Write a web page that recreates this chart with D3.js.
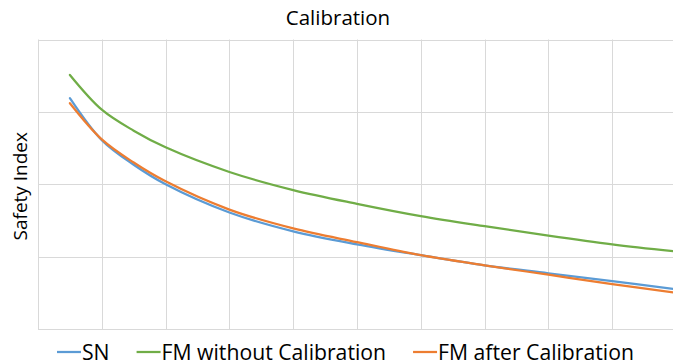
<!DOCTYPE html>
<html>
<head>
<meta charset="utf-8">
<script src="https://cdn.jsdelivr.net/npm/d3@7"></script>
<style>
  html, body { margin: 0; padding: 0; background: #fff; }
  svg { display: block; }
  text { font-family: "Open Sans", sans-serif; fill: #000; }
</style>
</head>
<body>
<div id="chart"></div>
<script>
// ---- data (x in category units, y in gridline units) ----
const xValues = [0.5, 1, 1.5, 2, 3, 4, 5, 6, 7, 8, 9, 10];
const snValues = [3.19, 2.61, 2.27, 2.00, 1.61, 1.35, 1.17, 1.02, 0.88, 0.77, 0.66, 0.55];
const fmWithoutValues = [3.51, 3.03, 2.74, 2.51, 2.17, 1.92, 1.73, 1.56, 1.42, 1.29, 1.17, 1.07];
const fmAfterValues = [3.12, 2.62, 2.30, 2.04, 1.65, 1.39, 1.20, 1.02, 0.88, 0.75, 0.62, 0.50];
const seriesNames = ["SN", "FM without Calibration", "FM after Calibration"];
const seriesColors = ["#5B9BD5", "#70AD47", "#ED7D31"];
const yTicks = [0, 1, 2, 3, 4];
const xTicks = [0, 1, 2, 3, 4, 5, 6, 7, 8, 9, 10];
const title = "Calibration";
const yLabel = "Safety Index";

const W = 673, H = 364;
const margin = { left: 38, top: 39.5, bottom: 35 };
const plotRight = 38 + 63.8 * 10;

const svg = d3.select("#chart").append("svg").attr("width", W).attr("height", H);

const x = d3.scaleLinear().domain([0, 10]).range([margin.left, plotRight]);
const y = d3.scaleLinear().domain([0, 4]).range([H - margin.bottom, margin.top]);

// gridlines
const grid = svg.append("g");
grid.selectAll("line.h").data(yTicks).enter().append("line")
  .attr("x1", margin.left).attr("x2", plotRight)
  .attr("y1", d => Math.round(y(d)) + 0.5).attr("y2", d => Math.round(y(d)) + 0.5)
  .attr("stroke", "#d9d9d9").attr("stroke-width", 1);
grid.selectAll("line.v").data(xTicks).enter().append("line")
  .attr("x1", d => Math.round(x(d)) + 0.5).attr("x2", d => Math.round(x(d)) + 0.5)
  .attr("y1", y(4)).attr("y2", y(0))
  .attr("stroke", "#d9d9d9").attr("stroke-width", 1);

// lines
const series = [snValues, fmWithoutValues, fmAfterValues];
const lineGen = d3.line()
  .x((d, i) => x(xValues[i]))
  .y(d => y(d))
  .curve(d3.curveCatmullRom.alpha(0.5));
// draw order: green, blue, orange (orange on top)
[1, 0, 2].forEach(k => {
  svg.append("path")
    .datum(series[k])
    .attr("d", lineGen)
    .attr("fill", "none")
    .attr("stroke", seriesColors[k])
    .attr("stroke-width", 2.25)
    .attr("stroke-linecap", "round");
});

// title
svg.append("text")
  .attr("x", 338).attr("y", 25)
  .attr("text-anchor", "middle")
  .style("font-size", "20.5px")
  .attr("fill", "#262626")
  .text(title);

// y label
svg.append("text")
  .attr("transform", `translate(27, ${(y(0) + y(4)) / 2 + 2}) rotate(-90)`)
  .attr("text-anchor", "middle")
  .style("font-size", "19px")
  .text(yLabel);

// legend
const legend = svg.append("g");
const items = legend.selectAll("g").data(seriesNames).enter().append("g");
items.append("line")
  .attr("x1", 0).attr("x2", 24)
  .attr("y1", 0).attr("y2", 0)
  .attr("stroke", (d, i) => seriesColors[i])
  .attr("stroke-width", 2.25);
items.append("text")
  .attr("x", 25).attr("y", 7.5)
  .style("font-size", "21.2px")
  .text(d => d);
let cx = 57;
items.each(function () {
  const g = d3.select(this);
  g.attr("transform", `translate(${cx}, 352)`);
  const tw = g.select("text").node().getComputedTextLength();
  cx += 25 + tw + 27;
});
</script>
</body>
</html>
